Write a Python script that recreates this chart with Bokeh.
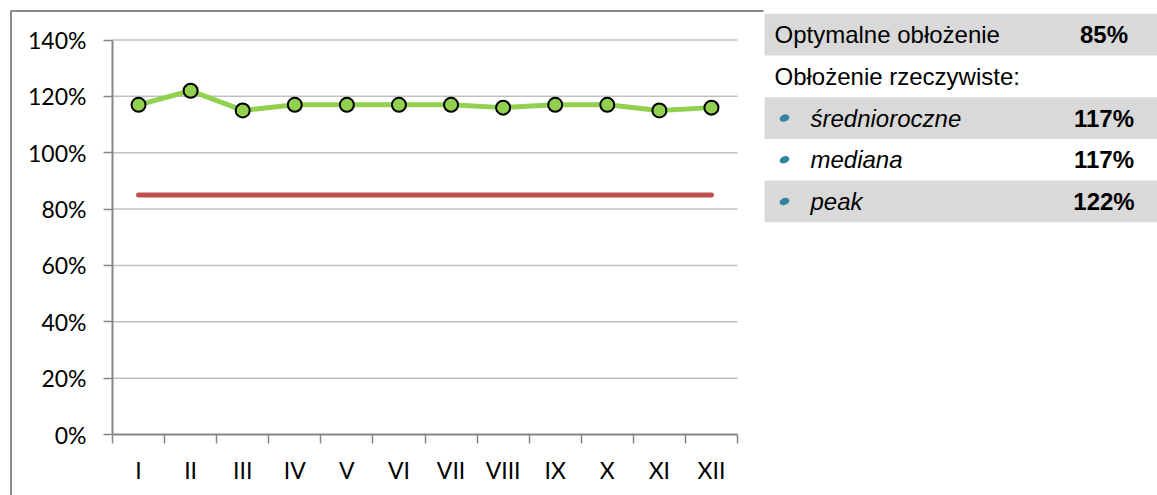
from bokeh.plotting import figure
from bokeh.models import (Range1d, FixedTicker, NumeralTickFormatter, LinearAxis,
                          ColumnDataSource)
from bokeh.core.properties import value
from bokeh.embed import file_html
from bokeh.resources import INLINE

# ---- data ----
months = ["I", "II", "III", "IV", "V", "VI", "VII", "VIII", "IX", "X", "XI", "XII"]
occupancy = [1.17, 1.22, 1.15, 1.17, 1.17, 1.17, 1.17, 1.16, 1.17, 1.17, 1.15, 1.16]
optimal = 0.85
y_ticks = [0.0, 0.2, 0.4, 0.6, 0.8, 1.0, 1.2, 1.4]

table_labels = ["Optymalne obłożenie", "Obłożenie rzeczywiste:", "średnioroczne", "mediana", "peak"]
table_values = ["85%", "", "117%", "117%", "122%"]
table_sub = [False, False, True, True, True]
table_band = [True, False, True, False, True]

# ---- layout (pixels) ----
W, H = 1157, 495
PLOT_L, PLOT_R, PLOT_T, PLOT_B = 112, 737, 39.5, 434
BOX_L, BOX_T, BOX_R = 10.5, 10.5, 763
ROW0_TOP, ROW_H = 13.3, 41.7
TBL_L = 764

GREEN = "#92D050"
RED = "#C0504D"
AXIS = "#868686"
GRID = "#C0C0C0"
FONT = "Lato"
TFONT = "Liberation Sans"

xs = list(range(1, len(months) + 1))
x_lo, x_hi = xs[0] - 0.5, xs[-1] + 0.5
y_lo, y_hi = y_ticks[0], y_ticks[-1]

ppx = (PLOT_R - PLOT_L) / (x_hi - x_lo)
ppy = (PLOT_B - PLOT_T) / (y_hi - y_lo)


def px2x(px):
    return x_lo + (px - PLOT_L) / ppx


def py2y(py):
    return y_lo + (PLOT_B - py) / ppy


p = figure(width=W, height=H,
           x_range=Range1d(px2x(0), px2x(W)),
           y_range=Range1d(py2y(H), py2y(0)),
           x_axis_type=None, y_axis_type=None,
           output_backend="svg", toolbar_location=None, min_border=0)
p.outline_line_color = None
p.background_fill_color = "white"
p.border_fill_color = "white"

# table ranges
r_top = -0.5 - ROW0_TOP / ROW_H
p.extra_x_ranges = {"tbl": Range1d(0, W)}
p.extra_y_ranges = {"tbl": Range1d(r_top + H / ROW_H, r_top)}

# chart frame border (left and top)
p.line([px2x(BOX_L), px2x(BOX_L), px2x(BOX_R)], [py2y(H + 5), py2y(BOX_T), py2y(BOX_T)],
       line_color="#8A8A8A", line_width=2)

# gridlines
p.segment(x0=x_lo, x1=x_hi, y0=y_ticks[1:], y1=y_ticks[1:], line_color=GRID, line_width=1.5)

# y axis
yaxis = LinearAxis(fixed_location=x_lo, bounds=(y_lo, y_hi),
                   ticker=FixedTicker(ticks=y_ticks),
                   formatter=NumeralTickFormatter(format="0%"))
yaxis.axis_line_color = AXIS
yaxis.axis_line_width = 2
yaxis.major_tick_line_color = AXIS
yaxis.major_tick_line_width = 1.5
yaxis.major_tick_out = 9
yaxis.major_tick_in = 0
yaxis.minor_tick_line_color = None
yaxis.major_label_standoff = 17
yaxis.major_label_text_font = FONT
yaxis.major_label_text_font_size = "23px"
yaxis.major_label_text_color = "#000000"
p.add_layout(yaxis, "left")

# x axis
xaxis = LinearAxis(fixed_location=y_lo, bounds=(x_lo, x_hi),
                   ticker=FixedTicker(ticks=xs, minor_ticks=[x - 0.5 for x in xs] + [x_hi]))
xaxis.major_label_overrides = {x: m for x, m in zip(xs, months)}
xaxis.axis_line_color = AXIS
xaxis.axis_line_width = 2
xaxis.major_tick_line_color = None
xaxis.major_tick_out = 0
xaxis.major_tick_in = 0
xaxis.minor_tick_line_color = AXIS
xaxis.minor_tick_line_width = 1.5
xaxis.minor_tick_out = 9
xaxis.minor_tick_in = 0
xaxis.major_label_standoff = 12
xaxis.major_label_text_font = FONT
xaxis.major_label_text_font_size = "23px"
xaxis.major_label_text_color = "#000000"
p.add_layout(xaxis, "below")

# series
p.line(xs, [optimal] * len(xs), line_color=RED, line_width=5, line_cap="round")
p.line(xs, occupancy, line_color=GREEN, line_width=5, line_join="round")
p.scatter(xs, occupancy, size=14, fill_color=GREEN, line_color="black", line_width=2)

# ---- table ----
rows = list(range(len(table_labels)))
band_rows = [r for r, b in zip(rows, table_band) if b]
p.hbar(y=band_rows, left=TBL_L, right=W, height=1, fill_color="#D9D9D9", line_color=None,
       x_range_name="tbl", y_range_name="tbl")

plain = ColumnDataSource(dict(
    y=[r for r, s in zip(rows, table_sub) if not s],
    text=[l for l, s in zip(table_labels, table_sub) if not s]))
sub = ColumnDataSource(dict(
    y=[r for r, s in zip(rows, table_sub) if s],
    text=[l for l, s in zip(table_labels, table_sub) if s]))
vals = ColumnDataSource(dict(y=rows, text=table_values))

p.text(x=TBL_L + 10, y="y", text="text", source=plain, text_font=value(TFONT),
       text_font_size="24px", text_baseline="middle", text_color="black",
       x_range_name="tbl", y_range_name="tbl")
p.text(x=TBL_L + 46, y="y", text="text", source=sub, text_font=value(TFONT),
       text_font_size="24px", text_font_style="italic", text_baseline="middle",
       text_color="black", x_range_name="tbl", y_range_name="tbl")
p.ellipse(x=TBL_L + 20, y="y", width=10, height=7, angle=0.35, width_units="screen",
          height_units="screen", source=sub, fill_color="#31849B", line_color=None,
          x_range_name="tbl", y_range_name="tbl")
p.text(x=TBL_L + 339.5, y="y", text="text", source=vals, text_font=value(TFONT),
       text_font_size="24px", text_font_style="bold", text_align="center",
       text_baseline="middle", text_color="black", x_range_name="tbl", y_range_name="tbl")

open("out.html", "w").write(file_html(p, INLINE))
